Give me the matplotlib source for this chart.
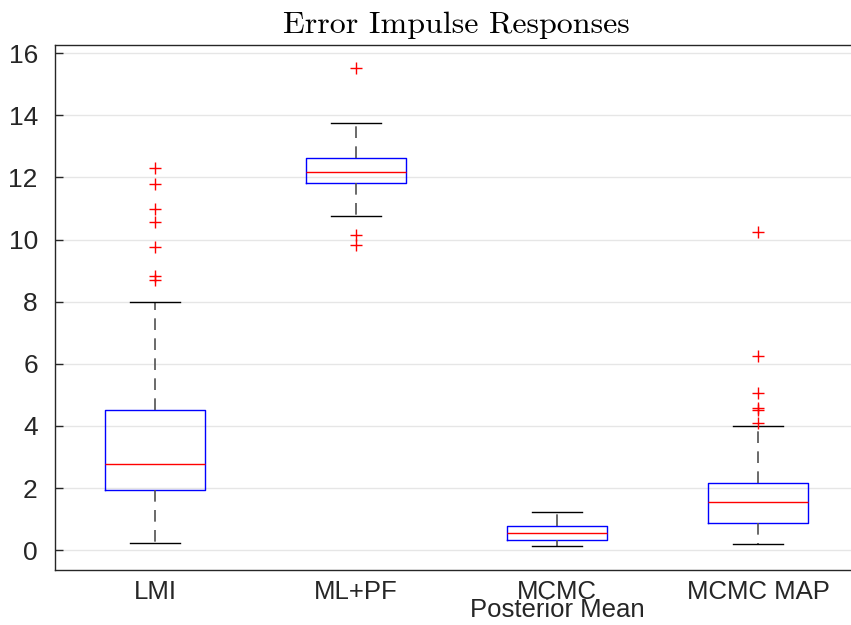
import numpy as np
import matplotlib
matplotlib.use("Agg")
import matplotlib.pyplot as plt

# dados (estatisticas das caixas)
metodos = ["LMI", "ML+PF", "MCMC\nPosterior Mean", "MCMC MAP"]
whisker_inf = [0.22, 10.76, 0.12, 0.20]
q1 = [1.93, 11.83, 0.34, 0.86]
mediana = [2.77, 12.19, 0.54, 1.54]
q3 = [4.51, 12.61, 0.77, 2.15]
whisker_sup = [7.99, 13.75, 1.22, 4.01]
outliers = [
    [12.29, 11.80, 10.99, 10.56, 9.75, 8.84, 8.69],
    [15.51, 10.16, 9.82],
    [],
    [10.25, 6.26, 5.05, 4.56, 4.50, 4.08],
]
yticks = [0, 2, 4, 6, 8, 10, 12, 14, 16]

stats = []
for i in range(len(metodos)):
    stats.append({
        "label": metodos[i],
        "whislo": whisker_inf[i],
        "q1": q1[i],
        "med": mediana[i],
        "q3": q3[i],
        "whishi": whisker_sup[i],
        "fliers": outliers[i],
    })

fig = plt.figure(figsize=(8.51, 6.25), dpi=100)
ax = fig.add_axes([54.5 / 851, 55 / 625, 804 / 851, 525.5 / 625])

ax.bxp(stats, positions=[1, 2, 3, 4], widths=0.5, showfliers=True,
       boxprops=dict(color="blue", linewidth=1.0),
       medianprops=dict(color="red", linewidth=1.0),
       whiskerprops=dict(color="#505050", linewidth=1.2, linestyle=(0, (7, 5))),
       capprops=dict(color="black", linewidth=1.0),
       flierprops=dict(marker="+", markeredgecolor="red", markersize=8,
                       markeredgewidth=1.0, linestyle="none"),
       capwidths=0.25)

ax.set_xlim(0.5, 4.5)
ax.set_ylim(-0.64, 16.28)
ax.set_yticks(yticks)
ax.set_yticklabels([str(v) for v in yticks], fontsize=19, family="Liberation Sans",
                   color="#262626")
ax.set_xticks([1, 2, 3, 4])
ax.set_xticklabels(metodos, fontsize=18.5, family="Liberation Sans", linespacing=0.68,
                   verticalalignment="top", color="#262626")
ax.tick_params(axis="x", length=0, pad=7)
ax.tick_params(axis="y", direction="in", length=6, width=1.0, color="#262626",
               left=True, right=True, pad=12)
ax.yaxis.grid(True, color="#e6e6e6", linewidth=1.0)
ax.set_axisbelow(True)
for s in ax.spines.values():
    s.set_color("#262626")
    s.set_linewidth(1.0)

ax.set_title("Error Impulse Responses", fontsize=23, family="cmr10", pad=8)

fig.savefig("out.png", dpi=100)
